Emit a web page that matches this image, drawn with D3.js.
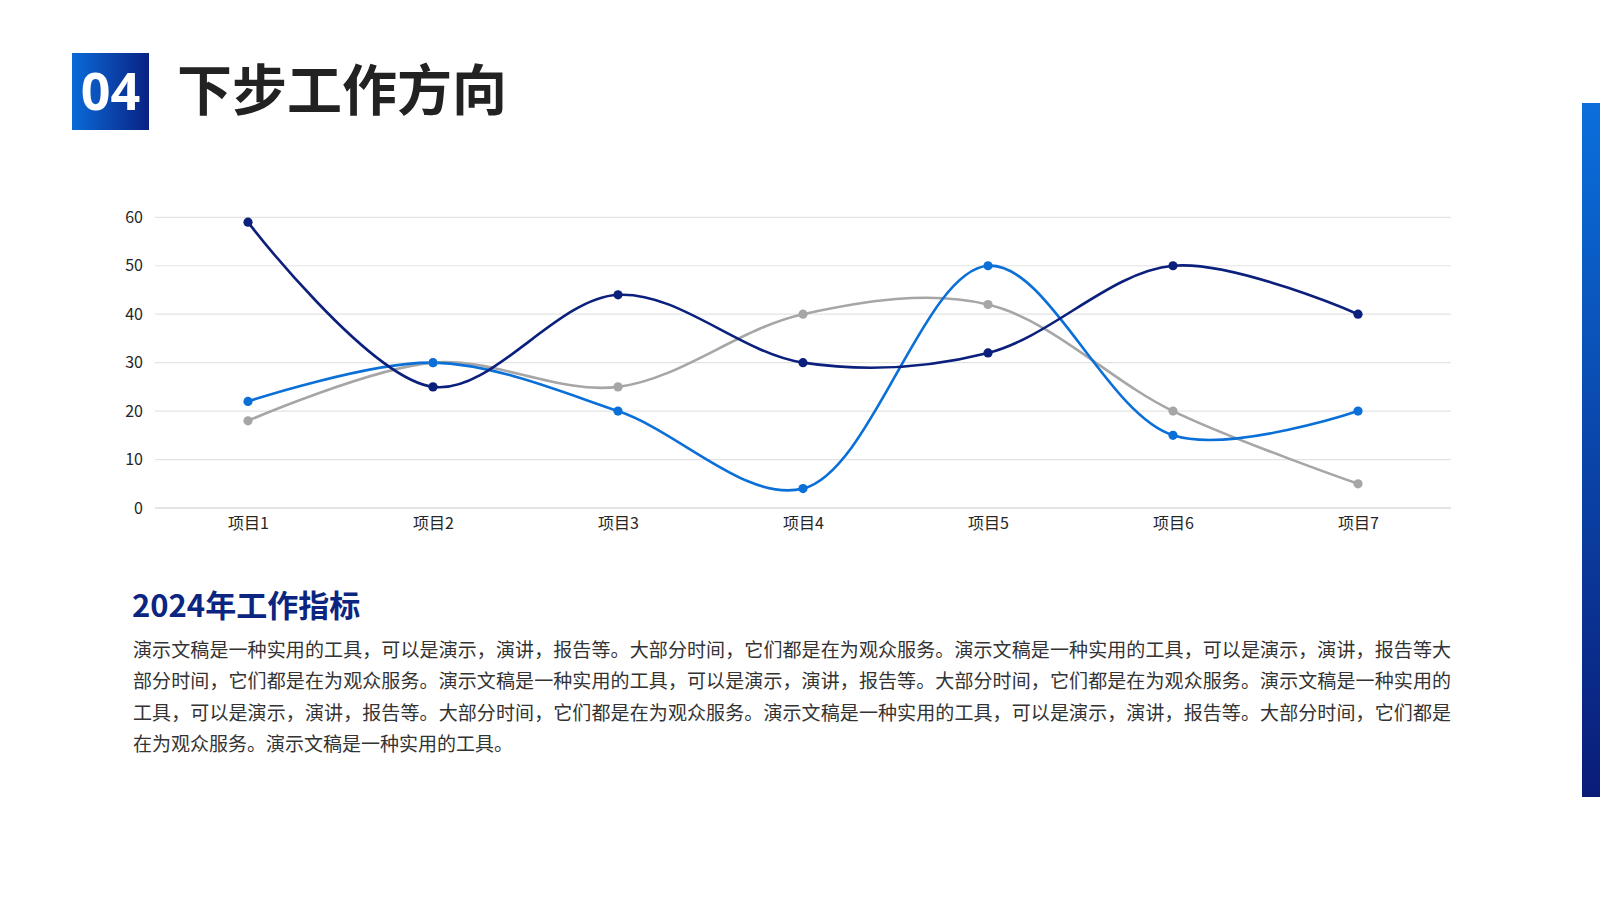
<!DOCTYPE html>
<html>
<head>
<meta charset="utf-8">
<script src="https://cdn.jsdelivr.net/npm/d3@7"></script>
<style>
  html, body { margin: 0; padding: 0; background: #fff; }
  svg { display: block; }
  text { font-family: "Noto Sans CJK SC", "Noto Sans", sans-serif; }
</style>
</head>
<body>
<svg id="chart" width="1600" height="900"></svg>
<script>
// chart data
const categories = ['项目1', '项目2', '项目3', '项目4', '项目5', '项目6', '项目7'];
const seriesDark = [59, 25, 44, 30, 32, 50, 40];
const seriesBlue = [22, 30, 20, 4, 50, 15, 20];
const seriesGray = [18, 30, 25, 40, 42, 20, 5];
const yTicks = [0, 10, 20, 30, 40, 50, 60];

const titleText = '下步工作方向';
const sectionNo = '04';
const headingText = '2024年工作指标';
const paragraphLines = [
  '演示文稿是一种实用的工具，可以是演示，演讲，报告等。大部分时间，它们都是在为观众服务。演示文稿是一种实用的工具，可以是演示，演讲，报告等大',
  '部分时间，它们都是在为观众服务。演示文稿是一种实用的工具，可以是演示，演讲，报告等。大部分时间，它们都是在为观众服务。演示文稿是一种实用的',
  '工具，可以是演示，演讲，报告等。大部分时间，它们都是在为观众服务。演示文稿是一种实用的工具，可以是演示，演讲，报告等。大部分时间，它们都是',
  '在为观众服务。演示文稿是一种实用的工具。'
];

const svg = d3.select('#chart');
const defs = svg.append('defs');

// gradients for the number box and the side bar
const boxGrad = defs.append('linearGradient')
  .attr('id', 'box-grad')
  .attr('x1', '0%').attr('y1', '0%').attr('x2', '100%').attr('y2', '0%');
boxGrad.append('stop').attr('offset', '0%').attr('stop-color', '#0a6ad8');
boxGrad.append('stop').attr('offset', '100%').attr('stop-color', '#0a2283');

const barGrad = defs.append('linearGradient')
  .attr('id', 'bar-grad')
  .attr('x1', '0%').attr('y1', '0%').attr('x2', '0%').attr('y2', '100%');
barGrad.append('stop').attr('offset', '0%').attr('stop-color', '#0a6fdc');
barGrad.append('stop').attr('offset', '100%').attr('stop-color', '#0a1c78');

// header
svg.append('rect')
  .attr('x', 72).attr('y', 53)
  .attr('width', 77).attr('height', 77)
  .attr('fill', 'url(#box-grad)');

svg.append('text')
  .attr('x', 110.5).attr('y', 89)
  .attr('text-anchor', 'middle')
  .attr('dominant-baseline', 'central')
  .attr('fill', '#fff')
  .attr('font-size', 52)
  .attr('font-weight', 'bold')
  .style('font-family', '"Noto Sans", "Open Sans", sans-serif')
  .text(sectionNo);

svg.append('text')
  .attr('x', 177).attr('y', 86)
  .attr('dominant-baseline', 'central')
  .attr('fill', '#222')
  .attr('font-size', 55)
  .attr('font-weight', 'bold')
  .text(titleText);

// right side bar
svg.append('rect')
  .attr('x', 1582).attr('y', 103)
  .attr('width', 18).attr('height', 694)
  .attr('fill', 'url(#bar-grad)');

// scales
const x = d3.scalePoint()
  .domain(categories)
  .range([155.5, 1450.5])
  .padding(0.5);

const y = d3.scaleLinear()
  .domain([0, 60])
  .range([508, 217.3]);

// grid lines
svg.append('g')
  .selectAll('line')
  .data(yTicks)
  .join('line')
    .attr('x1', 155).attr('x2', 1451)
    .attr('y1', d => y(d)).attr('y2', d => y(d))
    .attr('stroke', d => d === 0 ? '#c9c9c9' : '#e3e3e3')
    .attr('stroke-width', 1.2);

// y axis labels
const yAxis = svg.append('g')
  .attr('transform', 'translate(155,0)')
  .call(d3.axisLeft(y).tickValues(yTicks).tickSize(0).tickPadding(12));
yAxis.select('.domain').remove();
yAxis.selectAll('text')
  .attr('font-size', 16)
  .attr('fill', '#262626')
  .style('font-family', '"Noto Sans CJK SC", "Noto Sans", sans-serif');

// x axis labels
const xAxis = svg.append('g')
  .attr('transform', 'translate(0,508)')
  .call(d3.axisBottom(x).tickSize(0).tickPadding(10));
xAxis.select('.domain').remove();
xAxis.selectAll('text')
  .attr('font-size', 16)
  .attr('fill', '#262626')
  .style('font-family', '"Noto Sans CJK SC", "Noto Sans", sans-serif');

// the three smoothed series
const seriesList = [
  { values: seriesGray, color: '#a6a6a6' },
  { values: seriesBlue, color: '#0a70d8' },
  { values: seriesDark, color: '#0b1f7c' }
];

const line = d3.line()
  .x((d, i) => x(categories[i]))
  .y(d => y(d))
  .curve(d3.curveCatmullRom.alpha(0.5));

const plot = svg.append('g');
seriesList.forEach(s => {
  plot.append('path')
    .datum(s.values)
    .attr('fill', 'none')
    .attr('stroke', s.color)
    .attr('stroke-width', 2.6)
    .attr('d', line);
});
seriesList.forEach(s => {
  plot.append('g')
    .selectAll('circle')
    .data(s.values)
    .join('circle')
      .attr('cx', (d, i) => x(categories[i]))
      .attr('cy', d => y(d))
      .attr('r', 4.6)
      .attr('fill', s.color);
});

// text block under the chart
svg.append('text')
  .attr('x', 132).attr('y', 617)
  .attr('fill', '#0b2580')
  .attr('font-size', 31)
  .attr('font-weight', 'bold')
  .text(headingText);

svg.append('g')
  .selectAll('text')
  .data(paragraphLines)
  .join('text')
    .attr('x', 133)
    .attr('y', (d, i) => 648 + i * 31.6)
    .attr('dominant-baseline', 'central')
    .attr('fill', '#333')
    .attr('font-size', 19)
    .each(function(d, i) {
      if (i < paragraphLines.length - 1) {
        d3.select(this).attr('textLength', 1318).attr('lengthAdjust', 'spacing');
      }
    })
    .text(d => d);
</script>
</body>
</html>
